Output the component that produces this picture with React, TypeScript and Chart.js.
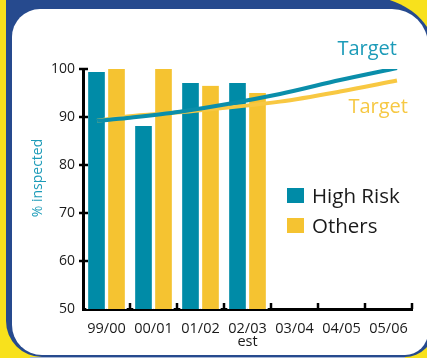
import React, { useEffect, useRef } from "react";
import { Chart, registerables } from "chart.js";
Chart.register(...registerables);

const CATEGORIES = ["99/00", "00/01", "01/02", "02/03", "03/04", "04/05", "05/06"];
const CATEGORY_NOTES = ["", "", "", "est", "", "", ""];
const HIGH_RISK = [99.4, 88.1, 97.1, 97.1, null, null, null];
const OTHERS = [100, 100, 96.5, 95.0, null, null, null];
const TARGET_POS = [-0.2, 0.44, 1.56, 3.69, 4.97, 6.18];
const TARGET_HIGH = [89.2, 89.8, 91.1, 94.8, 97.7, 100.2];
const TARGET_OTHERS = [89.2, 90.1, 91.0, 93.2, 95.3, 97.6];
const Y_MIN = 50;
const Y_MAX = 100;
const Y_STEP = 10;
const Y_TITLE = "% inspected";
const SERIES_NAMES = ["High Risk", "Others"];
const TARGET_LABEL = "Target";

const TEAL = "#008BA7";
const YELLOW = "#F5C331";
const TEAL_LINE = "#0A8EAA";
const YELLOW_LINE = "#F8C842";
const TEAL_TEXT = "#1C9BB8";
const YELLOW_TEXT = "#F6C843";
const FONT = "'Open Sans', 'DejaVu Sans', sans-serif";

const decorPlugin = {
  id: "decor",
  afterDatasetsDraw(chart: any) {
    const ctx = chart.ctx;
    const area = chart.chartArea;
    const y = chart.scales.y;
    const x2 = chart.scales.x2;
    ctx.save();
    ctx.strokeStyle = "#000";
    ctx.lineWidth = 2.5;
    for (let v = Y_MIN + Y_STEP; v <= Y_MAX; v += Y_STEP) {
      const py = Math.round(y.getPixelForValue(v));
      ctx.beginPath();
      ctx.moveTo(area.left - 4, py);
      ctx.lineTo(area.left + 5, py);
      ctx.stroke();
    }
    for (let i = 0; i < CATEGORIES.length; i++) {
      const px = Math.round(x2.getPixelForValue(i + 0.5));
      ctx.beginPath();
      ctx.moveTo(px, area.bottom);
      ctx.lineTo(px, area.bottom - 6);
      ctx.stroke();
    }
    ctx.fillStyle = TEAL_TEXT;
    ctx.font = `14px ${FONT}`;
    ctx.textAlign = "center";
    ctx.textBaseline = "middle";
    ctx.translate(38, 178);
    ctx.rotate(-Math.PI / 2);
    ctx.fillText(Y_TITLE, 0, 0);
    ctx.restore();

    ctx.save();
    ctx.font = `20px ${FONT}`;
    ctx.textAlign = "right";
    ctx.textBaseline = "alphabetic";
    const offsets = [
      { dx: 0, dy: -13, color: TEAL_TEXT },
      { dx: 11, dy: 32, color: YELLOW_TEXT },
    ];
    let li = 0;
    chart.data.datasets.forEach((ds: any, di: number) => {
      if (ds.type !== "line") return;
      const meta = chart.getDatasetMeta(di);
      const last = meta.data[meta.data.length - 1];
      const o = offsets[li++];
      ctx.fillStyle = o.color;
      ctx.fillText(ds.label, last.x + o.dx, last.y + o.dy);
    });
    ctx.restore();

    ctx.save();
    ctx.font = `20.5px ${FONT}`;
    ctx.textAlign = "left";
    ctx.textBaseline = "alphabetic";
    let bi = 0;
    chart.data.datasets.forEach((ds: any) => {
      if (ds.type !== "bar") return;
      const top = 188 + bi * 30;
      ctx.fillStyle = ds.backgroundColor;
      ctx.fillRect(287, top, 17, 15);
      ctx.fillStyle = "#1a1a1a";
      ctx.fillText(ds.label, 312, top + 15);
      bi++;
    });
    ctx.restore();
  },
};

const barStyle = {
  barThickness: 20,
  borderWidth: { left: 2, right: 2, top: 0, bottom: 0 },
  borderColor: "#ffffff",
  borderSkipped: false,
  order: 2,
};

export default function App() {
  const ref = useRef<HTMLCanvasElement | null>(null);
  useEffect(() => {
    if (!ref.current) return;
    const labels = CATEGORIES.map((c, i) => (CATEGORY_NOTES[i] ? [c, CATEGORY_NOTES[i]] : c));
    const chart = new Chart(ref.current, {
      type: "bar",
      data: {
        labels,
        datasets: [
          {
            type: "line",
            label: TARGET_LABEL,
            xAxisID: "x2",
            yAxisID: "y",
            grouped: false,
            data: TARGET_POS.map((p, i) => ({ x: p, y: TARGET_HIGH[i] })),
            borderColor: TEAL_LINE,
            borderWidth: 4,
            pointRadius: 0,
            tension: 0.4,
            cubicInterpolationMode: "monotone",
            order: 0,
          } as any,
          {
            type: "line",
            label: TARGET_LABEL,
            xAxisID: "x2",
            yAxisID: "y",
            grouped: false,
            data: TARGET_POS.map((p, i) => ({ x: p, y: TARGET_OTHERS[i] })),
            borderColor: YELLOW_LINE,
            borderWidth: 4,
            pointRadius: 0,
            tension: 0.4,
            cubicInterpolationMode: "monotone",
            order: 1,
          } as any,
          {
            type: "bar",
            label: SERIES_NAMES[0],
            xAxisID: "x",
            yAxisID: "y",
            data: HIGH_RISK,
            backgroundColor: TEAL,
            ...barStyle,
          } as any,
          {
            type: "bar",
            label: SERIES_NAMES[1],
            xAxisID: "x",
            yAxisID: "y",
            data: OTHERS,
            backgroundColor: YELLOW,
            ...barStyle,
          } as any,
        ],
      },
      options: {
        responsive: false,
        animation: false,
        devicePixelRatio: 1,
        layout: { padding: { left: 0, top: 69, right: 15, bottom: 0 } },
        plugins: { legend: { display: false }, tooltip: { enabled: false } },
        scales: {
          x: {
            type: "category",
            offset: true,
            grid: { display: false, drawTicks: false },
            border: { display: true, color: "#000", width: 3 },
            ticks: {
              color: "#1a1a1a",
              font: { family: FONT, size: 14.5, lineHeight: 0.9 },
              padding: 13,
              maxRotation: 0,
              autoSkip: false,
            },
            afterFit: (s: any) => {
              s.height = 49;
            },
          },
          x2: {
            type: "linear",
            display: false,
            offset: false,
            min: -0.5,
            max: CATEGORIES.length - 0.5,
          },
          y: {
            min: Y_MIN,
            max: Y_MAX,
            grid: { display: false, drawTicks: false },
            border: { display: true, color: "#000", width: 3 },
            ticks: {
              stepSize: Y_STEP,
              color: "#1a1a1a",
              font: { family: FONT, size: 14 },
              padding: 8,
            },
            afterFit: (s: any) => {
              s.width = 83;
            },
          },
        },
      } as any,
      plugins: [decorPlugin],
    });
    return () => chart.destroy();
  }, []);

  return (
    <div
      style={{
        position: "absolute",
        left: 0,
        top: 0,
        width: 427,
        height: 358,
        overflow: "hidden",
        background: "#F8E11C",
      }}
    >
      <div
        style={{
          position: "absolute",
          left: 6,
          top: -5,
          width: 428,
          height: 362,
          background: "#264A8E",
          borderRadius: "0 76px 29px 36px / 0 55px 29px 36px",
        }}
      />
      <div
        style={{
          position: "absolute",
          left: 30,
          top: 357,
          width: 375,
          height: 1,
          background: "#A9B8D6",
        }}
      />
      <div
        style={{
          position: "absolute",
          left: 12,
          top: 9,
          width: 416,
          height: 346,
          background: "#ffffff",
          borderRadius: "28px 36px 23px 30px",
        }}
      />
      <canvas
        ref={ref}
        width={427}
        height={358}
        style={{ position: "absolute", left: 0, top: 0, width: 427, height: 358, display: "block" }}
      />
    </div>
  );
}
